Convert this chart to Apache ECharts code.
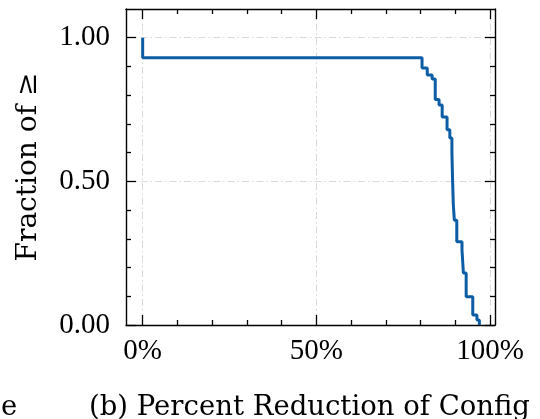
<!DOCTYPE html>
<html>
<head>
<meta charset="utf-8">
<script src="https://cdn.jsdelivr.net/npm/echarts@6/dist/echarts.min.js"></script>
<style>
	html, body { margin: 0; padding: 0; background: #fff; }
	#chart { width: 540px; height: 419px; }
</style>
</head>
<body>
<div id="chart"></div>
<script>
// step points: x where each level begins (%), fraction >= x
var reductionPct = [0, 0, 80.4, 81.9, 83.3, 84.2, 85.3, 86.2, 87.6, 88.4, 89.0, 89.2, 89.4, 89.7, 90.4, 91.9, 92.3, 93.1, 95.0, 96.2, 96.9];
var fractionGe = [1.0, 0.93, 0.895, 0.870, 0.856, 0.785, 0.766, 0.724, 0.68, 0.651, 0.60, 0.50, 0.42, 0.365, 0.290, 0.261, 0.181, 0.0985, 0.035, 0.017, 0];

var xMajor = [0, 50, 100];
var xMinor = [10, 20, 30, 40, 60, 70, 80, 90];
var yMajor = [0, 0.5, 1.0];
var yMinor = [0.1, 0.2, 0.3, 0.4, 0.6, 0.7, 0.8, 0.9];

var FONT = 'Liberation Serif';
var TEXT_FONT = 'DejaVu Serif';
var xMin = -4.8, xMax = 101.4, yMin = 0, yMax = 1.1;

function axisX(pos, ticks, major, withLabel) {
	return {
		type: 'value',
		position: pos,
		min: xMin,
		max: xMax,
		axisLine: { show: major, onZero: false, lineStyle: { color: '#000', width: 1.4 } },
		axisTick: {
			show: true,
			inside: true,
			length: major ? 10 : 5,
			customValues: ticks,
			lineStyle: { color: '#000', width: 1.3 }
		},
		axisLabel: {
			show: withLabel,
			customValues: ticks,
			margin: 12,
			color: '#000',
			fontFamily: FONT,
			fontSize: 29,
			formatter: function(v) { return v + '%'; }
		},
		splitLine: {
			show: withLabel,
			lineStyle: { color: '#d9d9d9', width: 1, type: [7, 3, 1.5, 3] }
		}
	};
}

function axisY(pos, ticks, major, withLabel) {
	return {
		type: 'value',
		position: pos,
		min: yMin,
		max: yMax,
		name: withLabel ? 'Fraction of \u2265' : '',
		nameLocation: 'middle',
		nameGap: 83,
		nameTextStyle: { color: '#000', fontFamily: TEXT_FONT, fontSize: 28 },
		axisLine: { show: major, onZero: false, lineStyle: { color: '#000', width: 1.4 } },
		axisTick: {
			show: true,
			inside: true,
			length: major ? 10 : 5,
			customValues: ticks,
			lineStyle: { color: '#000', width: 1.3 }
		},
		axisLabel: {
			show: withLabel,
			customValues: ticks,
			margin: 16,
			color: '#000',
			fontFamily: FONT,
			fontSize: 29,
			formatter: function(v) { return v.toFixed(2); }
		},
		splitLine: {
			show: withLabel,
			lineStyle: { color: '#d9d9d9', width: 1, type: [7, 3, 1.5, 3] }
		}
	};
}

var seriesData = [];
for (var i = 0; i < reductionPct.length; i++) {
	seriesData.push([reductionPct[i], fractionGe[i]]);
}

var ec = echarts.init(document.getElementById('chart'));
ec.setOption({
	animation: false,
	title: [{
		text: '(b) Percent Reduction of Config',
		left: 84,
		top: 389,
		textStyle: { color: '#000', fontFamily: TEXT_FONT, fontSize: 27.5, fontWeight: 'normal' }
	}, {
		text: 'e',
		left: -4,
		top: 389,
		textStyle: { color: '#000', fontFamily: TEXT_FONT, fontSize: 27.5, fontWeight: 'normal' }
	}],
	grid: {
		left: 126,
		top: 9,
		width: 369,
		height: 316
	},
	xAxis: [
		axisX('bottom', xMajor, true, true),
		axisX('bottom', xMinor, false, false),
		axisX('top', xMajor, true, false),
		axisX('top', xMinor, false, false)
	],
	yAxis: [
		axisY('left', yMajor, true, true),
		axisY('left', yMinor, false, false),
		axisY('right', yMajor, true, false),
		axisY('right', yMinor, false, false)
	],
	series: [{
		type: 'line',
		step: 'end',
		showSymbol: false,
		xAxisIndex: 0,
		yAxisIndex: 0,
		clip: false,
		lineStyle: { color: '#0C5DA5', width: 3 },
		data: seriesData
	}]
});
</script>
</body>
</html>
